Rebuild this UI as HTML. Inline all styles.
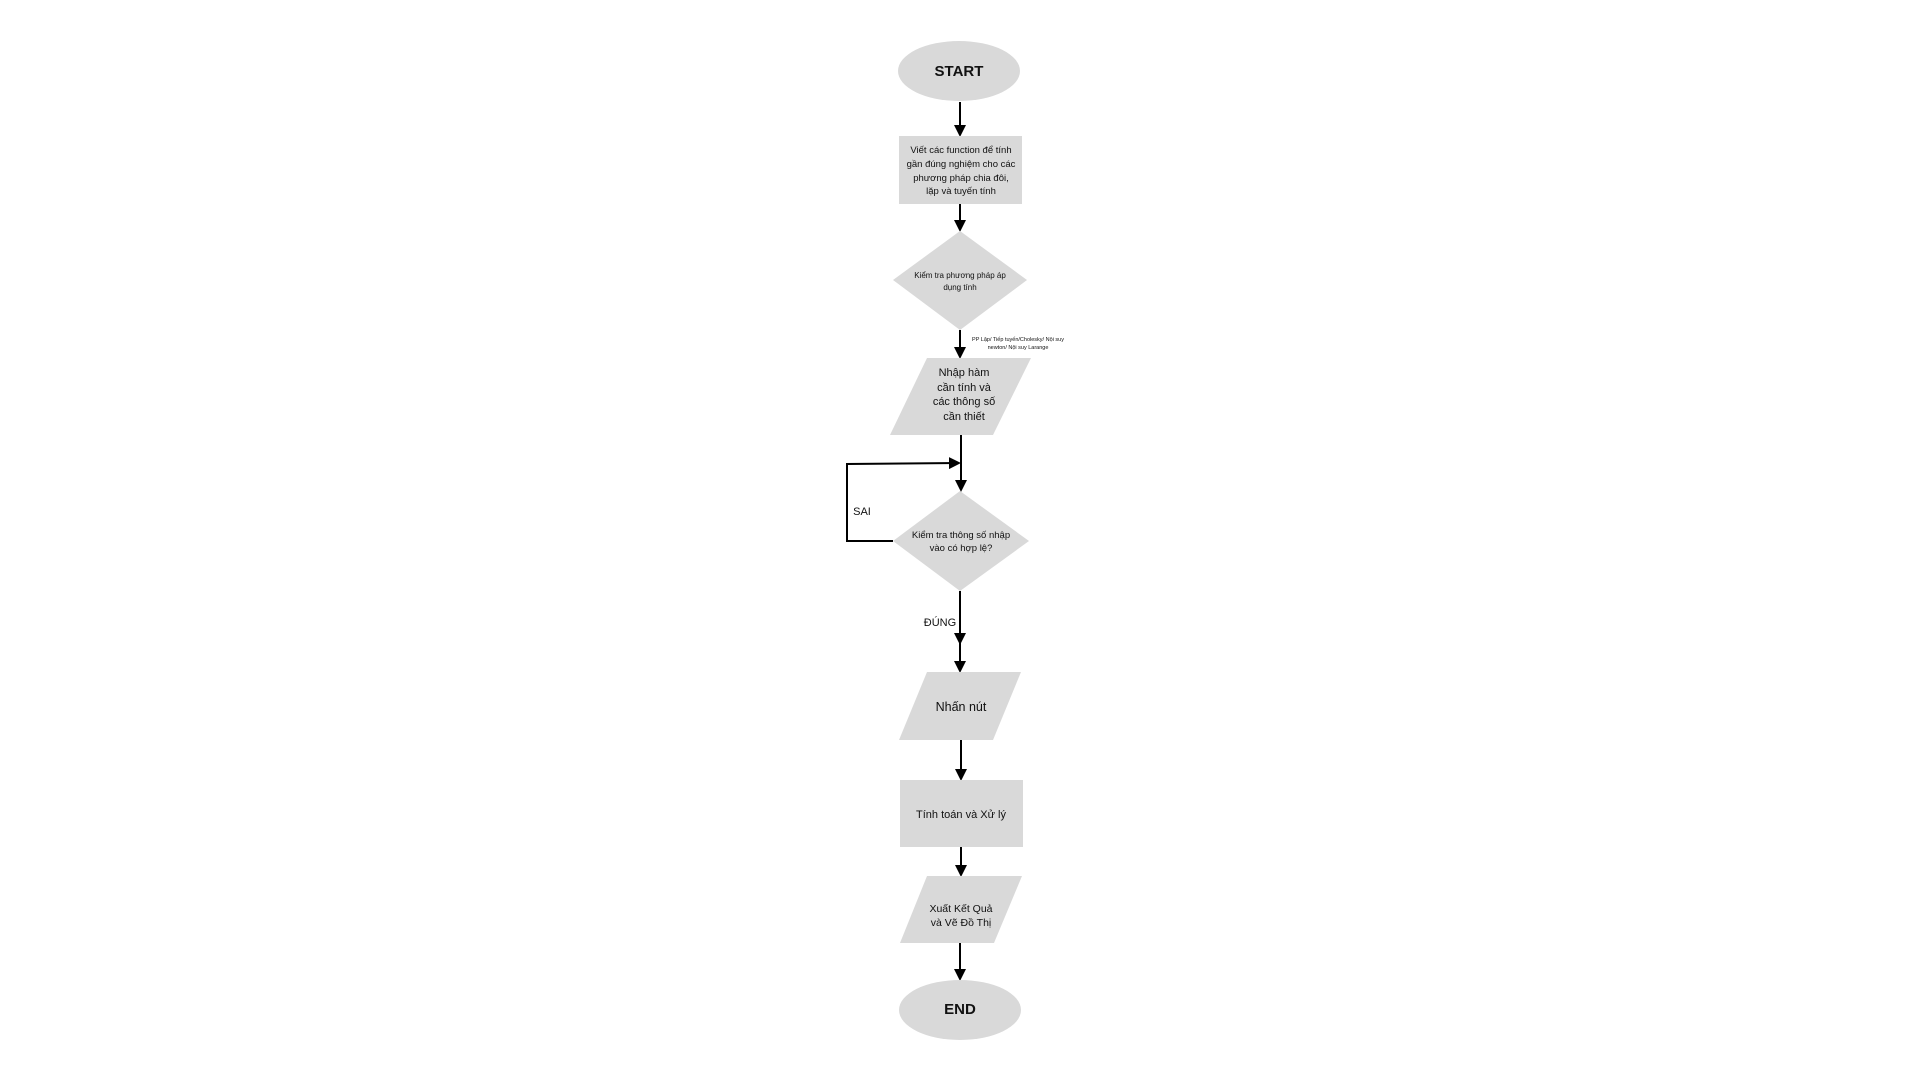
<!DOCTYPE html>
<html><head><meta charset="utf-8"><style>
html,body{margin:0;padding:0;background:#fff;width:1920px;height:1080px;overflow:hidden}
svg text{font-family:"Liberation Sans","DejaVu Sans",sans-serif;fill:#111}
</style></head><body>
<svg width="1920" height="1080" viewBox="0 0 1920 1080">
<defs><marker id="ah" markerWidth="6" markerHeight="6" refX="5" refY="3" orient="auto"><path d="M0,0 L6,3 L0,6 z" fill="#000"/></marker></defs>
<g stroke="#000" stroke-width="2" fill="none">
<line x1="960" y1="102" x2="960" y2="135" marker-end="url(#ah)"/>
<line x1="960" y1="204" x2="960" y2="230" marker-end="url(#ah)"/>
<line x1="960" y1="330" x2="960" y2="357" marker-end="url(#ah)"/>
<line x1="961" y1="435" x2="961" y2="490" marker-end="url(#ah)"/>
<polyline points="893,541 847,541 847,464 959,463" marker-end="url(#ah)"/>
<line x1="960" y1="591" x2="960" y2="643" marker-end="url(#ah)"/>
<line x1="960" y1="643" x2="960" y2="671" marker-end="url(#ah)"/>
<line x1="961" y1="740" x2="961" y2="779" marker-end="url(#ah)"/>
<line x1="961" y1="847" x2="961" y2="875" marker-end="url(#ah)"/>
<line x1="960" y1="943" x2="960" y2="979" marker-end="url(#ah)"/>
</g>
<g fill="#d9d9d9">
<ellipse cx="959" cy="71" rx="61" ry="30"/>
<rect x="899" y="136" width="123" height="68"/>
<polygon points="960,231 1027,280 960,330 893,280"/>
<polygon points="927,358 1031,358 993,435 890,435"/>
<polygon points="960,491 1029,541 960,591 893,541"/>
<polygon points="927,672 1021,672 993,740 899,740"/>
<rect x="900" y="780" width="123" height="67"/>
<polygon points="927,876 1022,876 994,943 900,943"/>
<ellipse cx="960" cy="1010" rx="61" ry="30"/>
</g>
<g text-anchor="middle">
<text x="959" y="72" font-size="15" font-weight="bold" dominant-baseline="middle">START</text>
<g font-size="9.5">
<text x="961" y="153">Viết các function để tính</text>
<text x="961" y="167">gần đúng nghiệm cho các</text>
<text x="961" y="181">phương pháp chia đôi,</text>
<text x="961" y="194">lặp và tuyến tính</text>
</g>
<g font-size="8">
<text x="960" y="278">Kiểm tra phương pháp áp</text>
<text x="960" y="290">dụng tính</text>
</g>
<g font-size="5.5">
<text x="1018" y="341">PP Lặp/ Tiếp tuyến/Cholesky/ Nội suy</text>
<text x="1018" y="349">newton/ Nội suy Larange</text>
</g>
<g font-size="11">
<text x="964" y="376">Nhập hàm</text>
<text x="964" y="391">cần tính và</text>
<text x="964" y="405">các thông số</text>
<text x="964" y="420">cần thiết</text>
</g>
<text x="862" y="515" font-size="11">SAI</text>
<g font-size="9.5">
<text x="961" y="538">Kiểm tra thông số nhập</text>
<text x="961" y="551">vào có hợp lệ?</text>
</g>
<text x="940" y="626" font-size="11">ĐÚNG</text>
<text x="961" y="711" font-size="12.5">Nhấn nút</text>
<text x="961" y="818" font-size="11">Tính toán và Xử lý</text>
<g font-size="10.5">
<text x="961" y="912">Xuất Kết Quả</text>
<text x="961" y="926">và Vẽ Đồ Thị</text>
</g>
<text x="960" y="1010" font-size="15" font-weight="bold" dominant-baseline="middle">END</text>
</g>
</svg>
</body></html>
